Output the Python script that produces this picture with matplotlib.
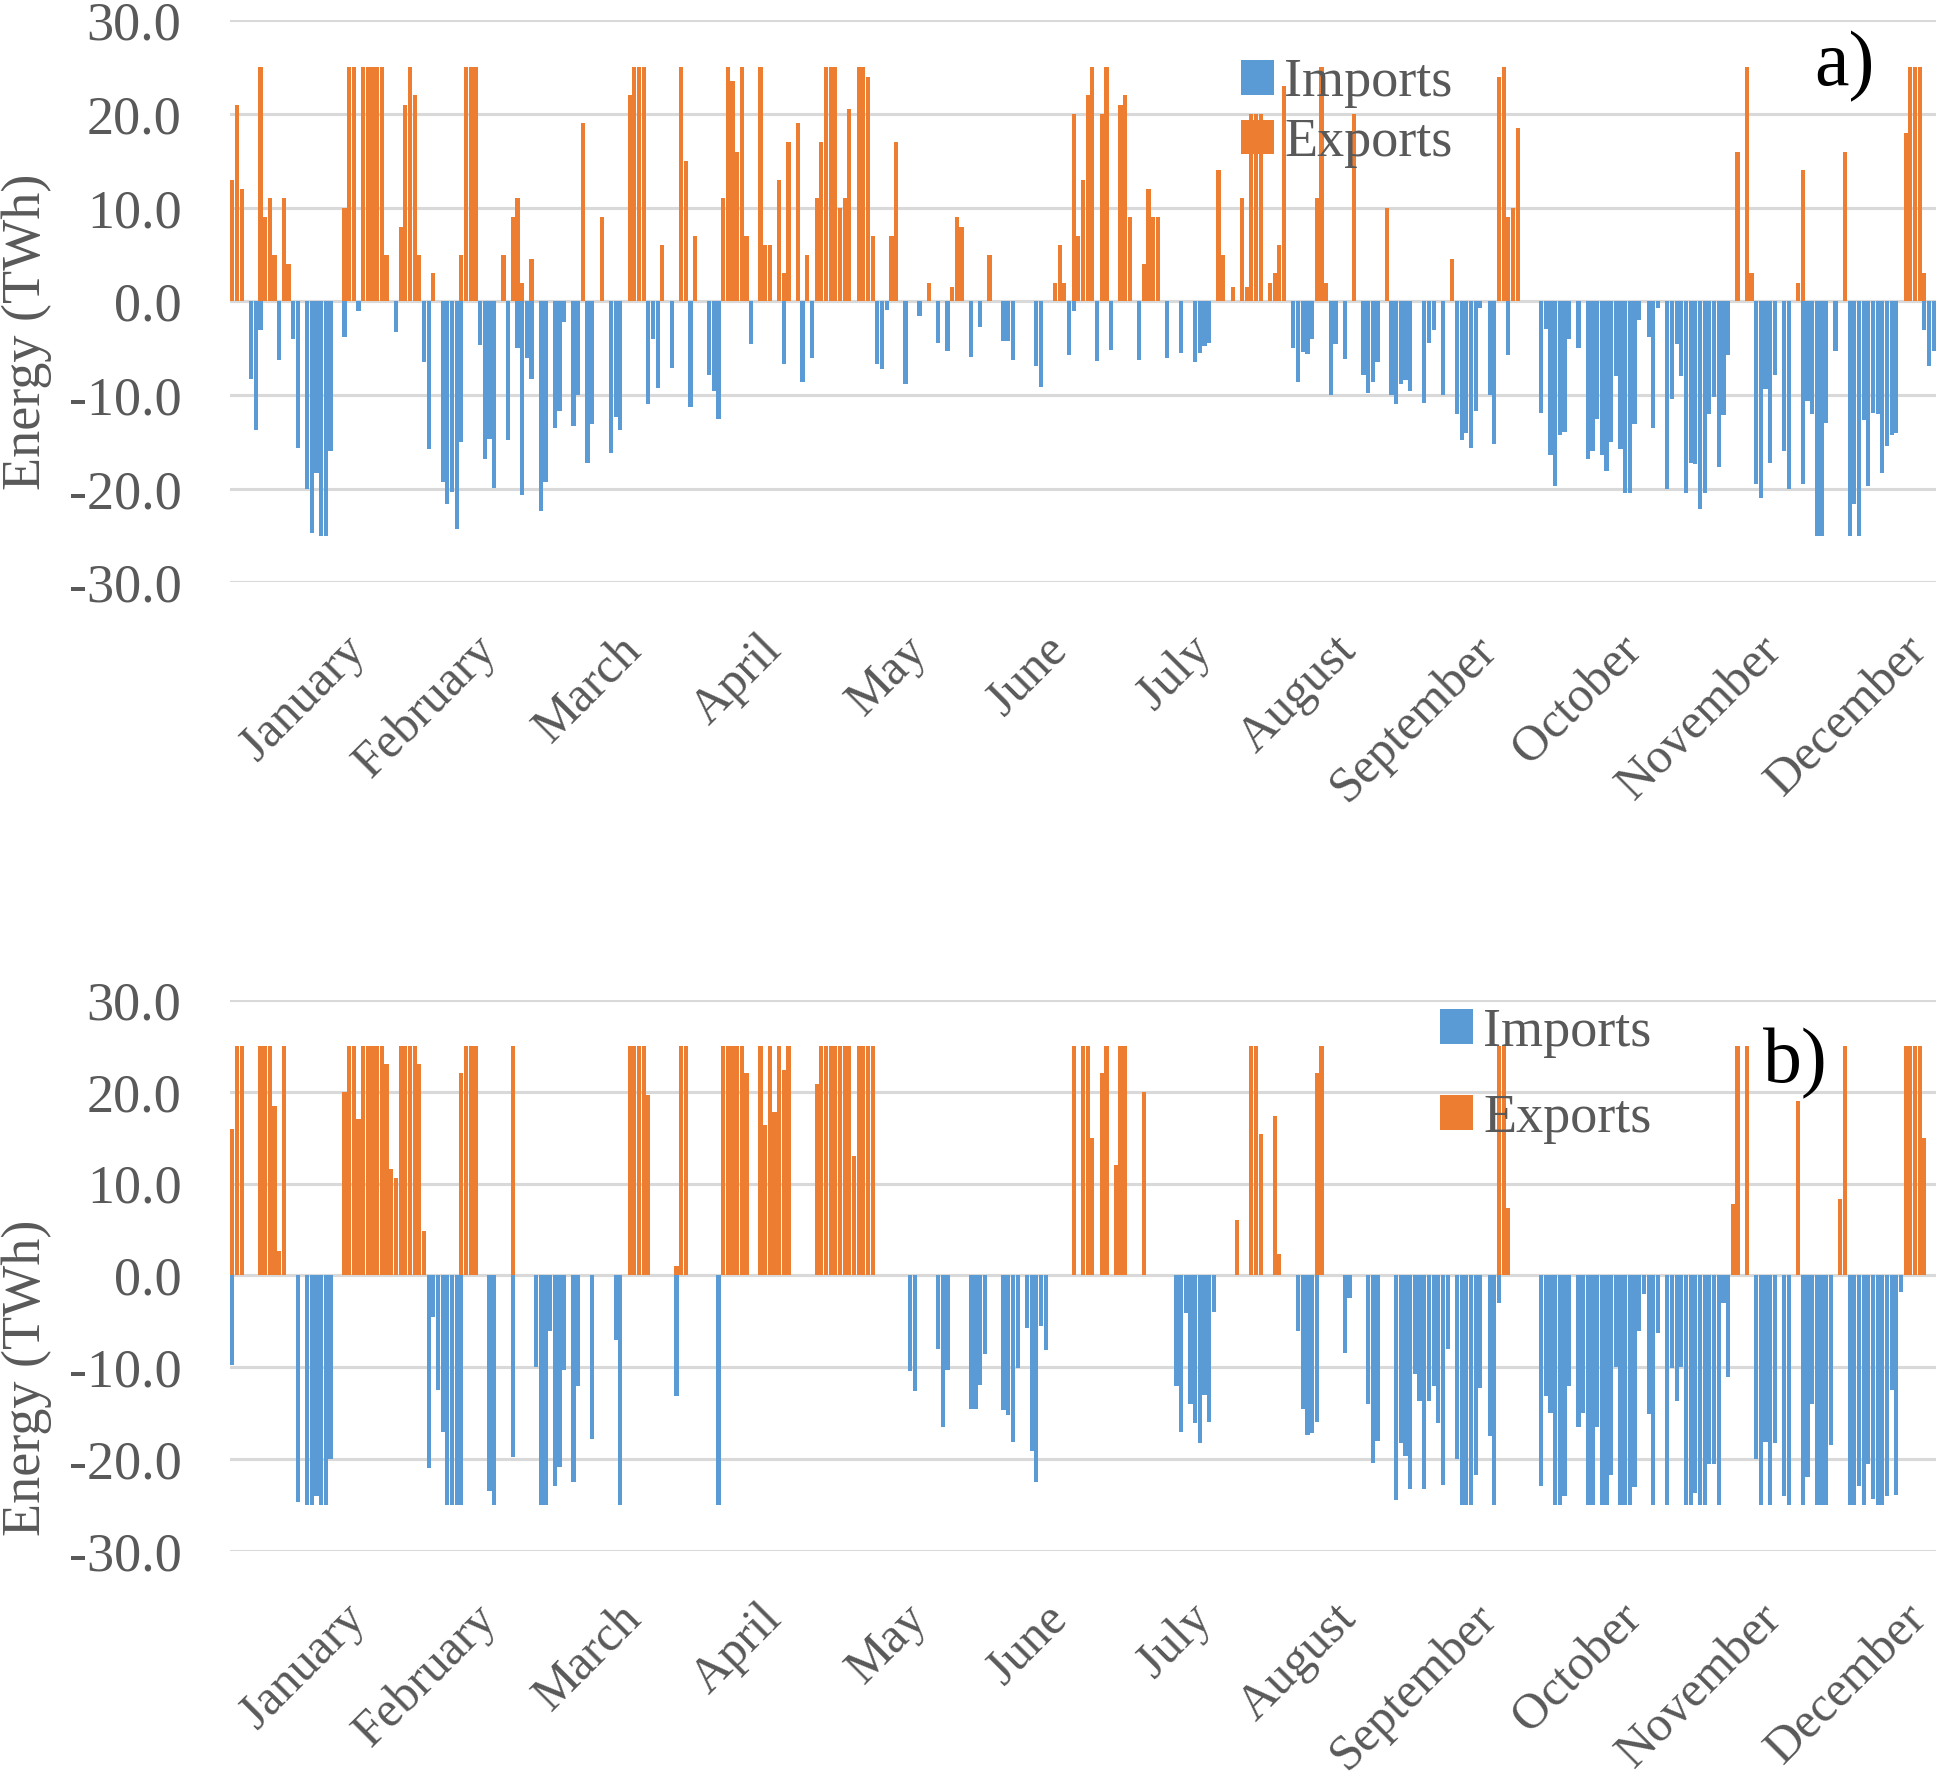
import numpy as np
import matplotlib
matplotlib.use('Agg')
from matplotlib import pyplot as plt
from matplotlib.patches import Patch

plt.rcParams['font.family'] = ['Liberation Serif', 'DejaVu Serif']
plt.rcParams['axes.unicode_minus'] = False

# (day of year, TWh), panel a
exports_a = [(0, 13), (1, 21), (2, 12), (6, 25), (7, 9), (8, 11), (9, 5), (11, 11), (12, 4), (24, 10), (25, 25),
             (26, 25), (28, 25), (29, 25), (30, 25), (31, 25), (32, 25), (33, 5), (36, 8), (37, 21), (38, 25),
             (39, 22), (40, 5), (43, 3), (49, 5), (50, 25), (51, 25), (52, 25), (58, 5), (60, 9), (61, 11), (62, 2),
             (64, 4.5), (75, 19), (79, 9), (85, 22), (86, 25), (87, 25), (88, 25), (92, 6), (96, 25), (97, 15),
             (99, 7), (105, 11), (106, 25), (107, 23.5), (108, 16), (109, 25), (110, 7), (113, 25), (114, 6),
             (115, 6), (117, 13), (118, 3), (119, 17), (121, 19), (123, 5), (125, 11), (126, 17), (127, 25),
             (128, 25), (129, 25), (130, 10), (131, 11), (132, 20.5), (134, 25), (135, 25), (136, 24), (137, 7),
             (141, 7), (142, 17), (149, 2), (154, 1.5), (155, 9), (156, 8), (162, 5), (176, 2), (177, 6), (178, 2),
             (180, 20), (181, 7), (182, 13), (183, 22), (184, 25), (186, 20), (187, 25), (190, 21), (191, 22),
             (192, 9), (195, 4), (196, 12), (197, 9), (198, 9), (211, 14), (212, 5), (214, 1.5), (216, 11),
             (217, 1.5), (218, 20), (219, 20), (220, 20), (222, 2), (223, 3), (224, 6), (225, 23), (232, 11),
             (233, 25), (234, 2), (240, 20), (247, 10), (261, 4.5), (271, 24), (272, 25), (273, 9), (274, 10),
             (275, 18.5), (322, 16), (324, 25), (325, 3), (335, 2), (336, 14), (345, 16), (358, 18), (359, 25),
             (360, 25), (361, 25), (362, 3)]

imports_a = [(4, -8.3), (5, -13.7), (6, -3), (10, -6.3), (13, -4), (14, -15.6), (16, -20), (17, -24.7),
             (18, -18.3), (19, -25), (20, -25), (21, -16), (24, -3.8), (27, -1), (35, -3.3), (41, -6.5),
             (42, -15.8), (45, -19.3), (46, -21.6), (47, -20.3), (48, -24.3), (49, -15), (53, -4.6), (54, -16.8),
             (55, -14.7), (56, -19.9), (59, -14.8), (61, -5), (62, -20.7), (63, -6), (64, -8.3), (66, -22.4),
             (67, -19.3), (69, -13.5), (70, -11.7), (71, -2.2), (73, -13.3), (74, -10), (76, -17.2), (77, -13.1),
             (81, -16.2), (82, -12.3), (83, -13.7), (89, -11), (90, -4), (91, -9.2), (94, -7.1), (98, -11.3),
             (102, -7.8), (103, -9.6), (104, -12.5), (111, -4.5), (118, -6.7), (122, -8.6), (124, -6), (138, -6.7),
             (139, -7.2), (140, -0.9), (144, -8.8), (147, -1.5), (151, -4.4), (153, -5.3), (158, -5.9),
             (160, -2.7), (165, -4.2), (166, -4.2), (167, -6.2), (172, -6.9), (173, -9.1), (179, -5.7), (180, -1),
             (185, -6.4), (188, -5.2), (194, -6.3), (200, -6), (203, -5.5), (206, -6.5), (207, -5.5), (208, -4.8),
             (209, -4.4), (227, -5), (228, -8.6), (229, -5.4), (230, -5.6), (231, -4), (235, -10), (236, -4.5),
             (238, -6.1), (242, -7.9), (243, -9.8), (244, -8.6), (245, -6.5), (248, -10), (249, -11), (250, -8.8),
             (251, -8.4), (252, -9.6), (255, -10.8), (256, -4.4), (257, -3), (259, -10), (262, -12), (263, -14.8),
             (264, -14), (265, -15.6), (266, -11.7), (267, -0.7), (269, -10), (270, -15.2), (273, -5.7),
             (280, -11.9), (281, -2.9), (282, -16.4), (283, -19.7), (284, -14.3), (285, -13.9), (286, -4),
             (288, -5), (290, -16.8), (291, -16), (292, -12.5), (293, -16.4), (294, -18.1), (295, -15), (296, -8),
             (297, -15.8), (298, -20.5), (299, -20.5), (300, -13.1), (301, -2), (303, -3.8), (304, -13.5),
             (305, -0.7), (307, -20), (308, -10.4), (309, -4.5), (310, -8), (311, -20.5), (312, -17.2),
             (313, -17.4), (314, -22.2), (315, -20.5), (316, -12), (317, -10.2), (318, -17.7), (319, -12.1),
             (320, -5.7), (326, -19.5), (327, -21), (328, -9.4), (329, -17.2), (330, -7.9), (332, -16), (333, -20),
             (336, -19.5), (337, -10.6), (338, -12), (339, -25), (340, -25), (341, -13), (343, -5.3), (346, -25),
             (347, -21.6), (348, -25), (349, -12.7), (350, -19.7), (351, -11.9), (352, -12), (353, -18.3),
             (354, -15.4), (355, -14.3), (356, -14), (362, -3), (363, -6.9), (364, -5.3)]

# panel b
exports_b = [(0, 16), (1, 25), (2, 25), (6, 25), (7, 25), (8, 25), (9, 18.5), (10, 2.7), (11, 25), (24, 20),
             (25, 25), (26, 25), (27, 17), (28, 25), (29, 25), (30, 25), (31, 25), (32, 25), (33, 23), (34, 11.6),
             (35, 10.6), (36, 25), (37, 25), (38, 25), (39, 25), (40, 23), (41, 4.8), (49, 22), (50, 25), (51, 25),
             (52, 25), (60, 25), (85, 25), (86, 25), (87, 25), (88, 25), (89, 19.6), (95, 1), (96, 25), (97, 25),
             (105, 25), (106, 25), (107, 25), (108, 25), (109, 25), (110, 22), (113, 25), (114, 16.4), (115, 25),
             (116, 17.8), (117, 25), (118, 22.4), (119, 25), (125, 20.8), (126, 25), (127, 25), (128, 25),
             (129, 25), (130, 25), (131, 25), (132, 25), (133, 13), (134, 25), (135, 25), (136, 25), (137, 25),
             (180, 25), (182, 25), (183, 25), (184, 15), (186, 22), (187, 25), (189, 12), (190, 25), (191, 25),
             (195, 20), (215, 6), (218, 25), (219, 25), (220, 15.4), (223, 17.4), (224, 2.3), (232, 22), (233, 25),
             (271, 25), (272, 25), (273, 7.4), (321, 7.8), (322, 25), (324, 25), (335, 19), (344, 8.3), (345, 25),
             (358, 25), (359, 25), (360, 25), (361, 25), (362, 15)]

imports_b = [(0, -9.7), (14, -24.7), (16, -25), (17, -25), (18, -24), (19, -25), (20, -25), (21, -20), (42, -21),
             (43, -4.5), (44, -12.5), (45, -17), (46, -25), (47, -25), (48, -25), (49, -25), (55, -23.5), (56, -25),
             (60, -19.8), (65, -10), (66, -25), (67, -25), (68, -6), (69, -22.9), (70, -20.9), (71, -10.3),
             (73, -22.5), (74, -12), (77, -17.8), (82, -7), (83, -25), (95, -13.1), (104, -25), (145, -10.4),
             (146, -12.6), (151, -8), (152, -16.5), (153, -10.3), (158, -14.5), (159, -14.5), (160, -11.9),
             (161, -8.6), (165, -14.6), (166, -15.2), (167, -18.1), (168, -10.1), (170, -5.7), (171, -19.1),
             (172, -22.5), (173, -5.5), (174, -8.1), (202, -12), (203, -17.1), (204, -4.1), (205, -14), (206, -16.1),
             (207, -18.3), (208, -13), (209, -16), (210, -4), (228, -6), (229, -14.5), (230, -17.4), (231, -17.2),
             (232, -16), (238, -8.4), (239, -2.5), (243, -14), (244, -20.4), (245, -18), (249, -24.5), (250, -18.3),
             (251, -19.7), (252, -23.3), (253, -10.7), (254, -13.7), (255, -23.3), (256, -13.7), (257, -12),
             (258, -16.1), (259, -22.8), (260, -8), (262, -20), (263, -25), (264, -25), (265, -25), (266, -21.7),
             (267, -12.3), (269, -17.5), (270, -25), (271, -3), (280, -22.9), (281, -13.1), (282, -15), (283, -25),
             (284, -25), (285, -24), (286, -12), (288, -16.5), (289, -15), (290, -25), (291, -25), (292, -16.5),
             (293, -25), (294, -25), (295, -21.7), (296, -10), (297, -25), (298, -25), (299, -25), (300, -23),
             (301, -6), (302, -2), (303, -15.1), (304, -25), (305, -6.3), (307, -25), (308, -10.1), (309, -13.7),
             (310, -10), (311, -25), (312, -25), (313, -23.7), (314, -25), (315, -25), (316, -20.5), (317, -20.5),
             (318, -25), (319, -3), (320, -11.1), (326, -20), (327, -25), (328, -18.1), (329, -25), (330, -18.3),
             (332, -24), (333, -25), (336, -25), (337, -21.9), (338, -14), (339, -25), (340, -25), (341, -25),
             (342, -18.5), (346, -25), (347, -25), (348, -22.9), (349, -25), (350, -20.5), (351, -24.3), (352, -25),
             (353, -25), (354, -24), (355, -12.5), (356, -23.9), (357, -1.8)]

months = ['January', 'February', 'March', 'April', 'May', 'June', 'July',
          'August', 'September', 'October', 'November', 'December']
month_days = [31, 28, 31, 30, 31, 30, 31, 31, 30, 31, 30, 31]
y_ticks = [-30, -20, -10, 0, 10, 20, 30]

blue = '#5B9BD5'
orange = '#ED7D31'
grey_text = '#595959'
grid_c = '#D9D9D9'

fig = plt.figure(figsize=(19.46, 17.79), dpi=100)
ax_a = fig.add_axes([0.1182, 0.6726, 0.8767, 0.3159])
ax_b = fig.add_axes([0.1182, 0.1282, 0.8767, 0.3097])


def draw_panel(ax, imports, exports):
    for series, color in ((imports, blue), (exports, orange)):
        days, vals = zip(*series)
        ax.bar(np.array(days) + 0.5, vals, width=0.9, color=color, linewidth=0, zorder=3)

    ax.set_xlim(0, 365)
    ax.set_ylim(-30, 30)
    ax.set_yticks(y_ticks)
    ax.set_yticklabels(['%.1f' % v for v in y_ticks])
    ax.grid(axis='y', color=grid_c, linewidth=2.2, zorder=0)
    ax.axhline(0, color=grid_c, linewidth=2.2, zorder=2)
    for s in ax.spines.values():
        s.set_visible(False)

    # month names sit at the end of each month
    ends = np.cumsum(month_days)
    ax.set_xticks(ends)
    ax.set_xticklabels(months, rotation=45, ha='right', va='top')
    ax.tick_params(axis='x', length=0, pad=32, labelsize=36, labelcolor=grey_text)
    ax.tick_params(axis='y', length=0, pad=35, labelsize=39, labelcolor=grey_text)


draw_panel(ax_a, imports_a, exports_a)
draw_panel(ax_b, imports_b, exports_b)

handles = [Patch(facecolor=blue, edgecolor='none', label='Imports'),
           Patch(facecolor=orange, edgecolor='none', label='Exports')]
leg_kw = dict(loc='upper left', bbox_transform=fig.transFigure, frameon=False, fontsize=39,
              borderpad=0, borderaxespad=0, handlelength=0.6, handleheight=0.6, handletextpad=0.2,
              labelcolor=grey_text)
ax_a.legend(handles=handles, bbox_to_anchor=(1241 / 1946, 1 - 58 / 1779), labelspacing=0.17, **leg_kw)
ax_b.legend(handles=handles, bbox_to_anchor=(1440 / 1946, 1 - 1007 / 1779), labelspacing=0.66, **leg_kw)

fig.text(1844 / 1946, 1 - 67 / 1779, 'a)', fontsize=56, ha='center', va='center', color='black')
fig.text(1795 / 1946, 1 - 1064 / 1779, 'b)', fontsize=56, ha='center', va='center', color='black')

fig.text(27 / 1946, 1 - 332 / 1779, 'Energy (TWh)', rotation=90, fontsize=39,
         ha='center', va='center', color=grey_text)
fig.text(27 / 1946, 1 - 1378 / 1779, 'Energy (TWh)', rotation=90, fontsize=39,
         ha='center', va='center', color=grey_text)

plt.savefig('out.png', dpi=100)
